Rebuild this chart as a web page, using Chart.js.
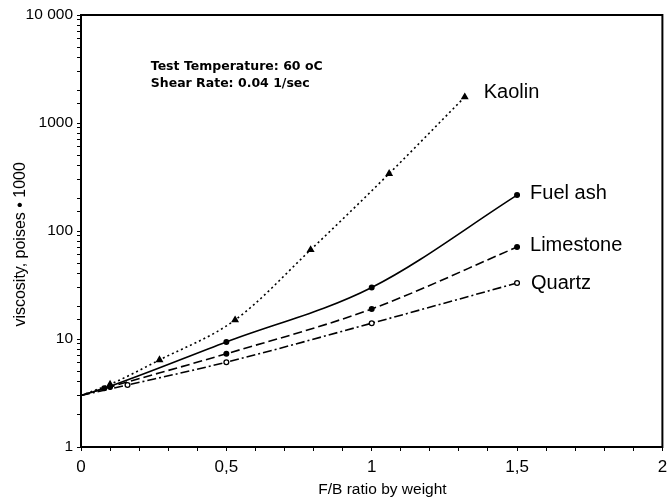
<!DOCTYPE html>
<html>
<head>
<meta charset="utf-8">
<script src="https://cdn.jsdelivr.net/npm/chart.js@4"></script>
<style>
  html, body { margin: 0; padding: 0; background: #fff; }
  #wrap { width: 668px; height: 503px; }
</style>
</head>
<body>
<div id="wrap"><canvas id="viscChart" width="668" height="503"></canvas></div>
<script>
// values
const kaolinX = [0, 0.1, 0.27, 0.53, 0.79, 1.06, 1.32];
const kaolinY = [3, 3.8, 6.4, 15, 67, 340, 1740];
const fuelAshX = [0, 0.08, 0.5, 1.0, 1.5];
const fuelAshY = [3, 3.5, 9.4, 30, 215];
const limestoneX = [0, 0.1, 0.5, 1.0, 1.5];
const limestoneY = [3, 3.6, 7.3, 19, 71];
const quartzX = [0, 0.16, 0.5, 1.0, 1.5];
const quartzY = [3, 3.75, 6.1, 14, 33];

const seriesNames = ['Kaolin', 'Fuel ash', 'Limestone', 'Quartz'];
const yTickLabels = { 1: '1', 10: '10', 100: '100', 1000: '1000', 10000: '10 000' };
const xTickLabels = { 0: '0', 5: '0,5', 10: '1', 15: '1,5', 20: '2' };
const noteLines = ['Test Temperature: 60 oC', 'Shear Rate: 0.04 1/sec'];

function pts(xs, ys) {
  return xs.map((x, i) => ({ x: x, y: ys[i] }));
}
function radii(xs, r) {
  return xs.map((x, i) => i === 0 ? 0 : r);
}

// label offsets next to the last point of each line
const labelShift = [[19, -5], [13, -2], [13, -2], [14, 0]];

const framePlugin = {
  id: 'frame',
  afterDatasetsDraw(chart) {
    const ctx = chart.ctx;
    const a = chart.chartArea;
    ctx.save();
    ctx.strokeStyle = '#000';
    ctx.lineWidth = 2;
    ctx.strokeRect(a.left, a.top, a.right - a.left, a.bottom - a.top);

    // series names at line ends
    ctx.fillStyle = '#000';
    ctx.font = '20px "Liberation Sans", Arial, sans-serif';
    ctx.textBaseline = 'middle';
    ctx.textAlign = 'left';
    chart.data.datasets.forEach((ds, i) => {
      const meta = chart.getDatasetMeta(i);
      const last = meta.data[meta.data.length - 1];
      ctx.fillText(seriesNames[i], last.x + labelShift[i][0], last.y + labelShift[i][1]);
    });

    // test conditions note
    ctx.font = 'bold 12.5px "DejaVu Sans", sans-serif';
    const nx = chart.scales.x.getPixelForValue(0.24);
    const ny = chart.scales.y.getPixelForValue(3300);
    ctx.fillText(noteLines[0], nx, ny);
    ctx.fillText(noteLines[1], nx, ny + 17);
    ctx.restore();
  }
};

const ctx = document.getElementById('viscChart');

new Chart(ctx, {
  type: 'line',
  data: {
    datasets: [
      {
        label: seriesNames[0],
        data: pts(kaolinX, kaolinY),
        borderColor: '#000',
        backgroundColor: '#000',
        borderWidth: 1.6,
        borderDash: [2, 3],
        pointStyle: 'triangle',
        pointRadius: radii(kaolinX, 3),
        cubicInterpolationMode: 'monotone'
      },
      {
        label: seriesNames[1],
        data: pts(fuelAshX, fuelAshY),
        borderColor: '#000',
        backgroundColor: '#000',
        borderWidth: 1.6,
        pointRadius: radii(fuelAshX, 2.2),
        cubicInterpolationMode: 'monotone'
      },
      {
        label: seriesNames[2],
        data: pts(limestoneX, limestoneY),
        borderColor: '#000',
        backgroundColor: '#000',
        borderWidth: 1.6,
        borderDash: [9, 4],
        pointRadius: radii(limestoneX, 2.2),
        cubicInterpolationMode: 'monotone'
      },
      {
        label: seriesNames[3],
        data: pts(quartzX, quartzY),
        borderColor: '#000',
        backgroundColor: '#fff',
        borderWidth: 1.6,
        borderDash: [9, 3, 2, 3],
        pointRadius: radii(quartzX, 2.4),
        pointBorderWidth: 1.3,
        cubicInterpolationMode: 'monotone'
      }
    ]
  },
  options: {
    responsive: false,
    animation: false,
    layout: { padding: { left: 0, right: -2, top: 15, bottom: 0 } },
    plugins: {
      legend: { display: false },
      tooltip: { enabled: false }
    },
    scales: {
      x: {
        type: 'linear',
        min: 0,
        max: 2,
        border: { color: '#000', width: 2 },
        grid: { drawOnChartArea: false, tickLength: 4, tickColor: '#000' },
        ticks: {
          stepSize: 0.1,
          autoSkip: false,
          maxRotation: 0,
          padding: 6,
          color: '#000',
          font: { family: '"Liberation Sans", Arial, sans-serif', size: 17 },
          callback: (v) => {
            const k = Math.round(v * 10);
            return xTickLabels[k] !== undefined ? xTickLabels[k] : '';
          }
        },
        title: {
          display: true,
          text: '\u00a0\u00a0\u00a0\u00a0\u00a0F/B ratio by weight',
          color: '#000',
          font: { family: '"Liberation Sans", Arial, sans-serif', size: 15.5 },
          padding: { top: 0, bottom: 4 }
        },
        afterFit: (axis) => {
          axis.height = 56;
          axis.paddingLeft = 0;
          axis.paddingRight = 0;
        }
      },
      y: {
        type: 'logarithmic',
        min: 1,
        max: 10000,
        border: { color: '#000', width: 2 },
        grid: { drawOnChartArea: false, tickLength: 4, tickColor: '#000' },
        ticks: {
          autoSkip: false,
          padding: 4,
          color: '#000',
          font: { family: '"Liberation Sans", Arial, sans-serif', size: 15.5 },
          callback: (v) => yTickLabels[v] !== undefined ? yTickLabels[v] : ''
        },
        title: {
          display: true,
          text: 'viscosity, poises \u2022 1000\u00a0\u00a0\u00a0\u00a0\u00a0\u00a0',
          color: '#000',
          font: { family: '"Liberation Sans", Arial, sans-serif', size: 16 },
          padding: { top: 11, bottom: 0 }
        },
        afterFit: (axis) => {
          axis.width = 81;
          axis.paddingTop = 0;
          axis.paddingBottom = 0;
        }
      }
    }
  },
  plugins: [framePlugin]
});
</script>
</body>
</html>
